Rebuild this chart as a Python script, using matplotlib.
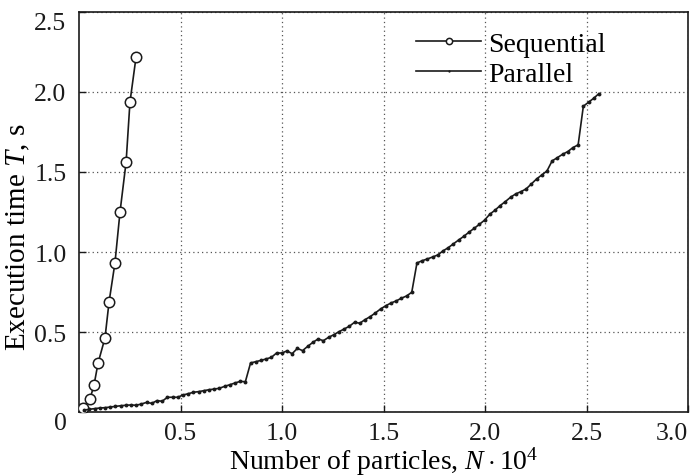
import numpy as np
import matplotlib
matplotlib.use("Agg")
import matplotlib.pyplot as plt

plt.rcParams["font.family"] = ["Liberation Serif", "DejaVu Serif"]
plt.rcParams["mathtext.fontset"] = "custom"
plt.rcParams["mathtext.rm"] = "Liberation Serif"
plt.rcParams["mathtext.it"] = "Liberation Serif:italic"

# sequential run, N in units of 10^4
seq_n = [0.020, 0.054, 0.074, 0.094, 0.128, 0.148, 0.177, 0.202, 0.232, 0.251, 0.281]
seq_t = [0.027, 0.083, 0.170, 0.308, 0.464, 0.688, 0.931, 1.250, 1.562, 1.936, 2.217]

# parallel run, N = 256 * k particles, k = 1..100
par_n = np.arange(1, 101) * 256 / 1e4
par_t = [
    0.014, 0.019, 0.023, 0.027, 0.029, 0.033, 0.037, 0.041, 0.044, 0.046,
    0.044, 0.052, 0.062, 0.056, 0.073, 0.069, 0.094, 0.094, 0.094, 0.108,
    0.116, 0.125, 0.129, 0.135, 0.141, 0.145, 0.150, 0.162, 0.172, 0.183,
    0.193, 0.191, 0.308, 0.316, 0.324, 0.333, 0.343, 0.370, 0.370, 0.383,
    0.366, 0.399, 0.385, 0.412, 0.437, 0.458, 0.447, 0.468, 0.484, 0.503,
    0.520, 0.537, 0.562, 0.556, 0.578, 0.597, 0.620, 0.645, 0.665, 0.682,
    0.695, 0.712, 0.726, 0.749, 0.932, 0.946, 0.957, 0.969, 0.982, 1.007,
    1.027, 1.051, 1.075, 1.098, 1.124, 1.148, 1.173, 1.199, 1.236, 1.261,
    1.290, 1.315, 1.342, 1.363, 1.377, 1.394, 1.425, 1.456, 1.481, 1.506,
    1.569, 1.589, 1.610, 1.627, 1.652, 1.669, 1.910, 1.935, 1.960, 1.989,
]

x_ticks = [0.5, 1.0, 1.5, 2.0, 2.5, 3.0]
y_ticks = [0, 0.5, 1.0, 1.5, 2.0, 2.5]

fig = plt.figure(figsize=(6.91, 4.77), dpi=100)
ax = fig.add_axes([0.1143, 0.1335, 0.8818, 0.8399])

ax.plot(seq_n, seq_t, color="#1a1a1a", linewidth=1.2, marker="o", markersize=7.5,
        markerfacecolor="white", markeredgecolor="#1a1a1a", markeredgewidth=1.1,
        label="Sequential", zorder=3)
ax.plot(par_n, par_t, color="#1a1a1a", linewidth=1.2, marker="o", markersize=2.8,
        markerfacecolor="#1a1a1a", markeredgewidth=0, label="Parallel", zorder=3)

ax.set_xlim(0, 3.0)
ax.set_ylim(0, 2.5)
ax.set_xticks(x_ticks)
ax.set_yticks(y_ticks)
ax.set_xticklabels([f"{v:.1f}" for v in x_ticks])
ax.set_yticklabels(["0"] + [f"{v:.1f}" for v in y_ticks[1:]])
ax.tick_params(direction="in", length=5, width=1.0, labelsize=18.5, pad=7, colors="#1a1a1a")
ax.tick_params(axis="y", pad=9)

ax.get_xticklabels()[-1].set_horizontalalignment("right")
ax.get_yticklabels()[0].set_verticalalignment("top")
ax.get_yticklabels()[-1].set_verticalalignment("top")

ax.grid(True, linestyle=(0, (1, 2.5)), color="#555555", linewidth=0.9)
for s in ax.spines.values():
    s.set_linewidth(1.2)
    s.set_color("#1a1a1a")

ax.set_xlabel(r"Number of particles, $N\cdot10^4$", fontsize=20)
ax.set_ylabel(r"Execution time $T$, s", fontsize=21)
ax.xaxis.set_label_coords(0.5, -0.08)
ax.yaxis.set_label_coords(-0.077, 0.44)

leg = ax.legend(loc="upper left", bbox_to_anchor=(0.553, 0.95), frameon=False,
                fontsize=20, handlelength=2.35, handletextpad=0.25, labelspacing=0.15,
                borderaxespad=0, borderpad=0, markerscale=0.6)

fig.savefig("out.png", dpi=100)
